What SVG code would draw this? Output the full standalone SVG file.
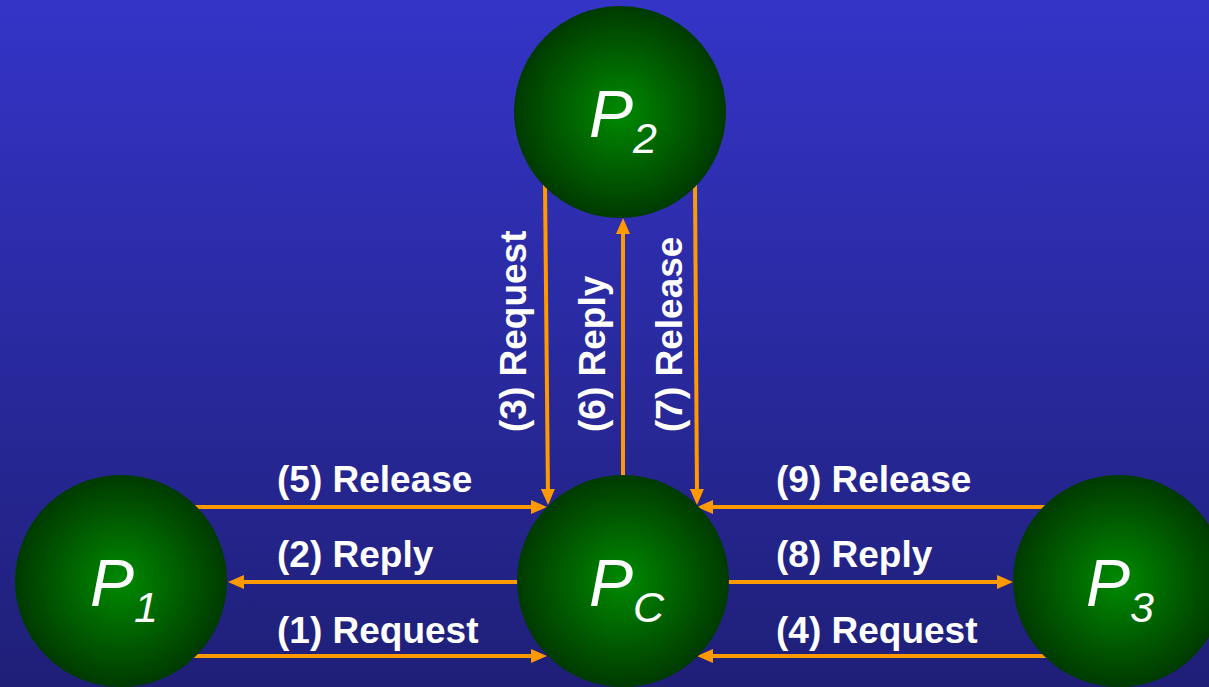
<svg xmlns="http://www.w3.org/2000/svg" width="1209" height="687" viewBox="0 0 1209 687">
<defs>
<linearGradient id="bg" x1="0" y1="0" x2="0" y2="1">
<stop offset="0" stop-color="#3434c8"/>
<stop offset="1" stop-color="#1f1f78"/>
</linearGradient>
<radialGradient id="ball" cx="0.5" cy="0.5" r="0.5">
<stop offset="0" stop-color="#008a00"/>
<stop offset="1" stop-color="#003a00"/>
</radialGradient>
<marker id="ah" markerUnits="userSpaceOnUse" markerWidth="16" markerHeight="14" refX="8" refY="7" orient="auto">
<path d="M0,0 L16,7 L0,14 z" fill="#ff9900"/>
</marker>
</defs>
<style>
.node{fill:url(#ball);}
.p{font-family:"Liberation Sans",Arial,sans-serif;font-style:italic;fill:#ffffff;font-size:66px;}
.sub{font-size:43px;}
.lbl{font-family:"Liberation Sans",Arial,sans-serif;font-weight:bold;font-size:37px;fill:#ffffff;}
.c{stroke:#ff9900;stroke-width:4;fill:none;}
.a{marker-end:url(#ah);}
</style>
<rect x="0" y="0" width="1209" height="687" fill="url(#bg)"/>
<g id="connectors">
<line class="c a" x1="193" y1="507" x2="539" y2="507"/>
<line class="c a" x1="519" y1="582" x2="236" y2="582"/>
<line class="c a" x1="193" y1="656" x2="539" y2="656"/>
<line class="c a" x1="1047" y1="507" x2="705" y2="507"/>
<line class="c a" x1="727" y1="582" x2="1005" y2="582"/>
<line class="c a" x1="1047" y1="656" x2="705" y2="656"/>
<line class="c a" x1="545" y1="183" x2="548" y2="497"/>
<line class="c a" x1="623" y1="477" x2="623" y2="226"/>
<line class="c a" x1="695" y1="183" x2="697" y2="497"/>
<text class="lbl" x="277" y="492">(5) Release</text>
<text class="lbl" x="277" y="567">(2) Reply</text>
<text class="lbl" x="277" y="643">(1) Request</text>
<text class="lbl" x="776" y="492">(9) Release</text>
<text class="lbl" x="776" y="567">(8) Reply</text>
<text class="lbl" x="776" y="643">(4) Request</text>
<text class="lbl" transform="translate(526,432) rotate(-90)">(3) Request</text>
<text class="lbl" transform="translate(605,432) rotate(-90)">(6) Reply</text>
<text class="lbl" transform="translate(682,432) rotate(-90)">(7) Release</text>
</g>
<g id="P2">
<circle class="node" cx="620" cy="112" r="106"/>
<text class="p" x="589" y="137">P<tspan class="sub" dx="0" dy="16">2</tspan></text>
</g>
<g id="P1">
<circle class="node" cx="121" cy="581" r="106"/>
<text class="p" x="90" y="606">P<tspan class="sub" dx="0" dy="16">1</tspan></text>
</g>
<g id="PC">
<circle class="node" cx="623" cy="581" r="106"/>
<text class="p" x="589" y="606">P<tspan class="sub" dx="0" dy="16">C</tspan></text>
</g>
<g id="P3">
<circle class="node" cx="1119" cy="581" r="106"/>
<text class="p" x="1086" y="606">P<tspan class="sub" dx="0" dy="16">3</tspan></text>
</g>
</svg>
